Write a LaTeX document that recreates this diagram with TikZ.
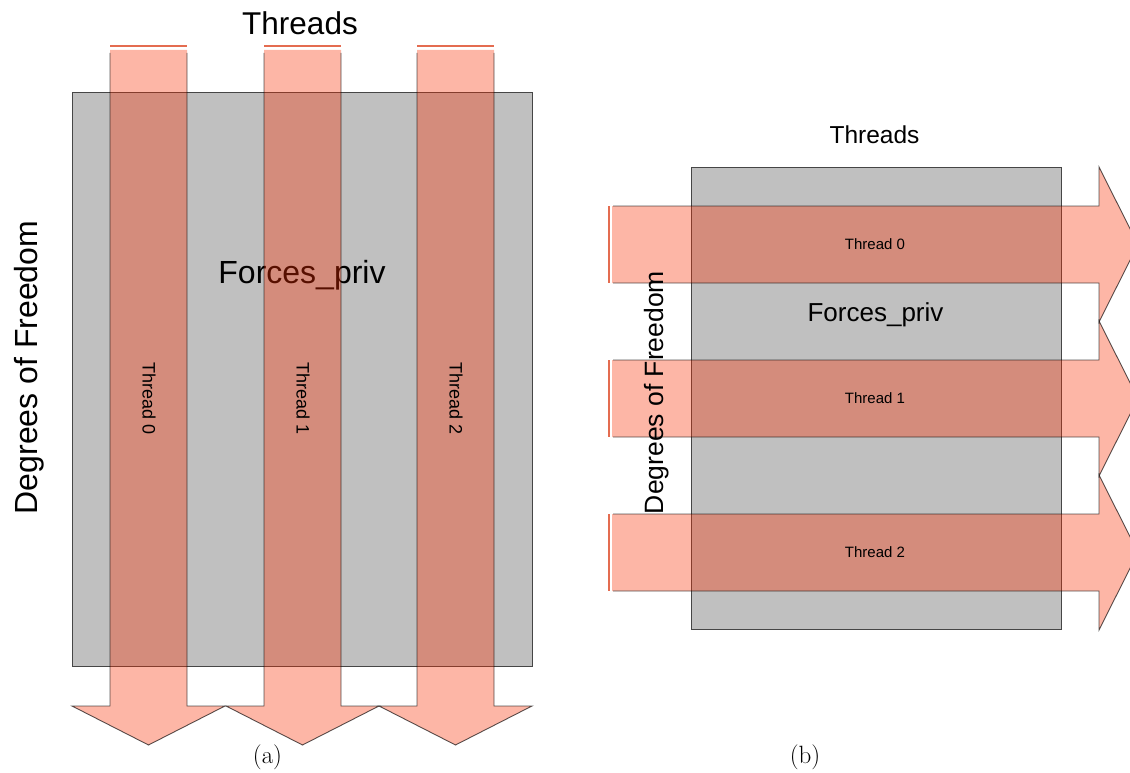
\documentclass[tikz,border=0pt]{standalone}
\usepackage{fontspec}
\newfontfamily\arial{Liberation Sans}
\definecolor{grayfill}{RGB}{192,192,192}
\definecolor{grayline}{RGB}{70,70,70}
\definecolor{salmonbase}{RGB}{250,45,0}
\definecolor{topline}{RGB}{228,108,80}
\tikzset{
  panel/.style={fill=grayfill, draw=grayline, line width=0.9pt},
  arrowfill/.style={fill=salmonbase, fill opacity=0.35},
  arrowedge/.style={draw=black, draw opacity=0.65, line width=0.9pt, line join=miter},
  capline/.style={draw=topline, line width=2pt},
  lbl/.style={font=\arial, text=black, inner sep=0pt},
}
\begin{document}
\begin{tikzpicture}[x=1pt,y=-1pt]
\useasboundingbox (0,0) rectangle (1130,773);
\clip (0,0) rectangle (1130,773);

% ---------------- panel (a) ----------------
\draw[panel] (72,92) rectangle (532,666);
\node[lbl, anchor=base, font=\arial\fontsize{31.5}{38}\selectfont] (threadsA) at (300,35) {Threads};
\node[lbl, anchor=base, font=\arial\fontsize{32}{38}\selectfont] (forcesA) at (302,283) {Forces\_priv};
\node[lbl, anchor=base, rotate=90, font=\arial\fontsize{32}{38}\selectfont] (dofA) at (37,367.5) {Degrees of Freedom};
\foreach \x/\i in {110/0,264/1,417/2}{
  \fill[arrowfill] (\x,50) -- (\x,706) -- ({\x-38},706) -- ({\x+38.5},745) -- ({\x+115},706) -- ({\x+77},706) -- ({\x+77},50) -- cycle;
  \draw[arrowedge] (\x,53) -- (\x,706) -- ({\x-38},706) -- ({\x+38.5},745) -- ({\x+115},706) -- ({\x+77},706) -- ({\x+77},53);
  \draw[capline] (\x,46.5) -- ({\x+77},46.5);
  \node[lbl, rotate=-90, font=\arial\fontsize{18}{22}\selectfont] (tA\i) at ({\x+39},399) {Thread \i};
}
\node[inner sep=0pt, anchor=base, font=\fontsize{25}{30}\selectfont] (capA) at (267.5,763) {(a)};

% ---------------- panel (b) ----------------
\draw[panel] (691,167) rectangle (1061,629);
\node[lbl, anchor=base, font=\arial\fontsize{24.5}{30}\selectfont] (threadsB) at (874.5,143) {Threads};
\node[lbl, anchor=base, font=\arial\fontsize{26}{30}\selectfont] (forcesB) at (875.5,321) {Forces\_priv};
\foreach \y/\i in {206/0,360/1,514/2}{
  \fill[arrowfill] (612,\y) -- (1099,\y) -- (1099,{\y-39}) -- (1138,{\y+38.5}) -- (1099,{\y+116}) -- (1099,{\y+77}) -- (612,{\y+77}) -- cycle;
  \draw[arrowedge] (613,\y) -- (1099,\y) -- (1099,{\y-39}) -- (1138,{\y+38.5}) -- (1099,{\y+116}) -- (1099,{\y+77}) -- (613,{\y+77});
  \draw[capline] (608.5,\y) -- (608.5,{\y+77});
  \node[lbl, font=\arial\fontsize{15}{18}\selectfont] (tB\i) at (875,{\y+38}) {Thread \i};
}
\node[lbl, anchor=base, rotate=90, font=\arial\fontsize{26.5}{30}\selectfont] (dofB) at (663,392.5) {Degrees of Freedom};
\node[inner sep=0pt, anchor=base, font=\fontsize{25}{30}\selectfont] (capB) at (805,763) {(b)};
\end{tikzpicture}
\end{document}
